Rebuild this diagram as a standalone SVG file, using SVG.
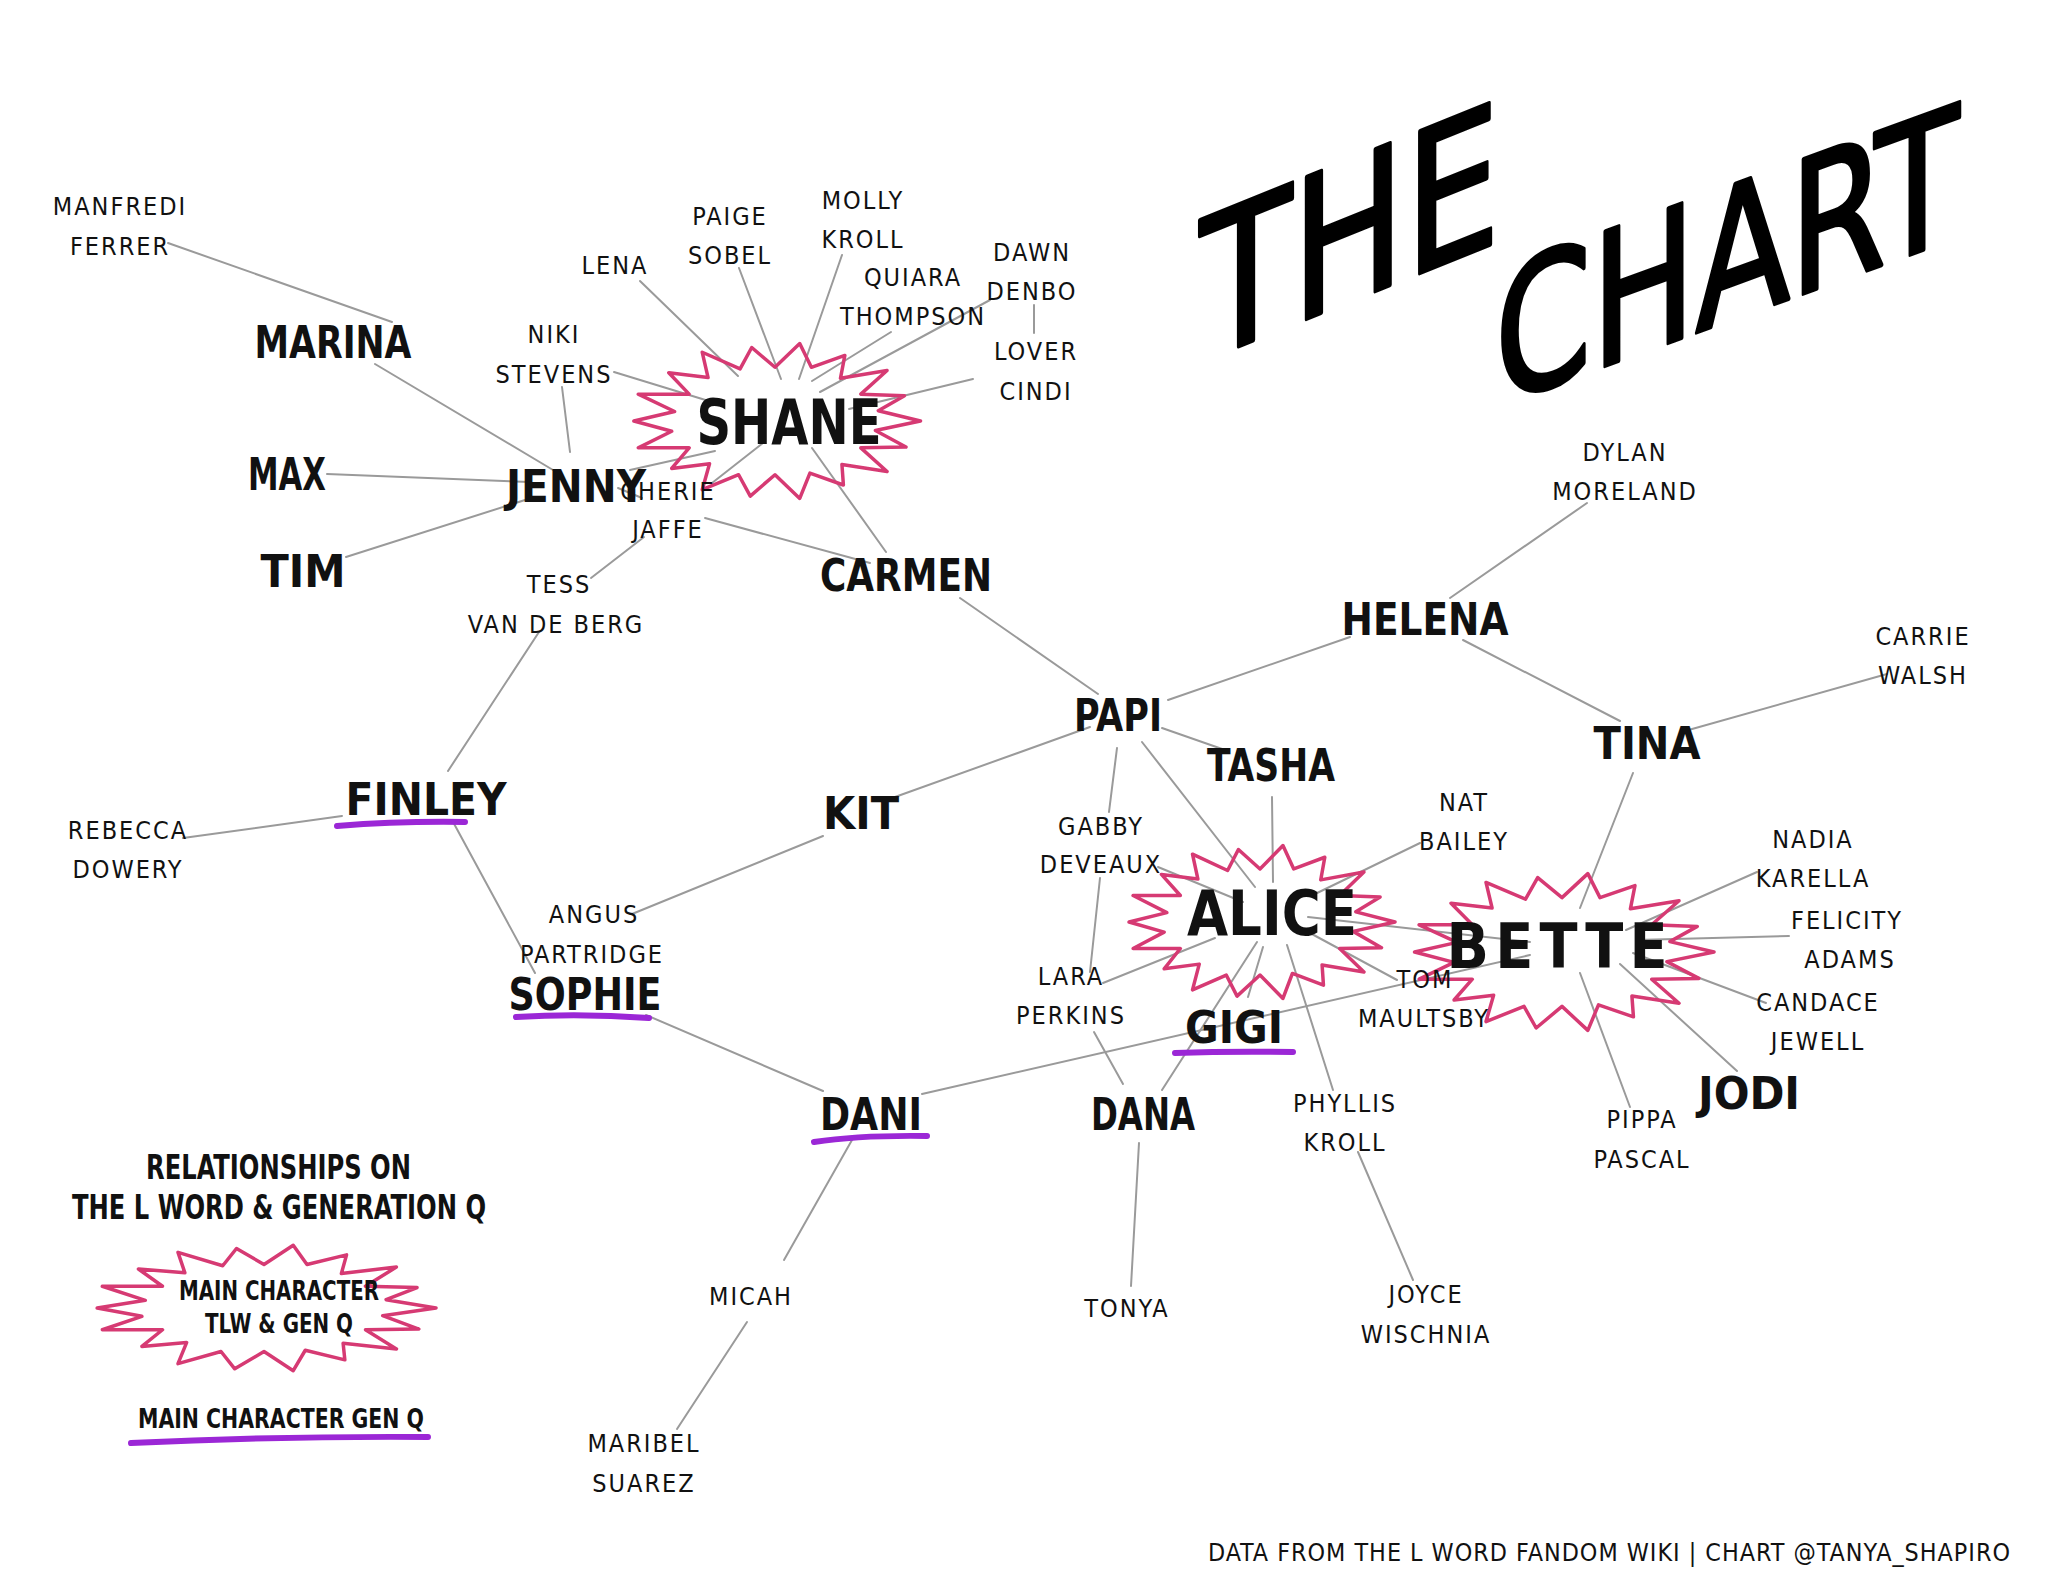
<svg xmlns="http://www.w3.org/2000/svg" xmlns:xlink="http://www.w3.org/1999/xlink" width="2048" height="1594" viewBox="0 0 2048 1594">
<style>
.c line{stroke:#9a9a9a;stroke-width:2;stroke-linecap:round}
.big{font-family:"Liberation Sans Narrow","DejaVu Sans Condensed","Liberation Sans",sans-serif;font-weight:bold;font-size:44px;text-anchor:middle;fill:#111}
.huge{font-size:62px}
.sm{font-family:"Liberation Sans Narrow","DejaVu Sans Condensed","Liberation Sans",sans-serif;font-size:25px;text-anchor:middle;fill:#111;letter-spacing:2px}
.leg{font-family:"Liberation Sans Narrow","DejaVu Sans Condensed","Liberation Sans",sans-serif;font-weight:bold;fill:#111}
.title{font-family:"Liberation Sans Narrow","DejaVu Sans Condensed","Liberation Sans",sans-serif;fill:#000;stroke:#000;stroke-width:4;stroke-linejoin:round}
.bp{fill:none;stroke:#d63a73;stroke-width:3.5;stroke-linejoin:round;vector-effect:non-scaling-stroke}
.ul{fill:none;stroke:#9b27d6;stroke-width:6;stroke-linecap:round}
</style>
<defs>
<path id="burst" class="bp" d="M100,0 L69,12 L90,33 L59,34 L77,64 L46,55 L47,81 L24,66 L17,98 L0,68 L-17,95 L-25,68 L-50,87 L-45,54 L-71,60 L-59,34 L-94,34 L-71,13 L-97,0 L-69,-12 L-94,-34 L-59,-34 L-73,-61 L-46,-55 L-50,-87 L-24,-66 L-16,-93 L0,-68 L17,-98 L25,-68 L48,-83 L45,-54 L77,-64 L59,-34 L89,-32 L71,-13 Z"/>
</defs>
<rect width="2048" height="1594" fill="#fff"/>

<g id="title">
<text class="title" font-size="195" transform="translate(1200,362) skewY(-22)" textLength="300" lengthAdjust="spacingAndGlyphs">THE</text>
<text class="title" font-size="185" transform="translate(1495,406) skewY(-20)" textLength="464" lengthAdjust="spacingAndGlyphs">CHART</text>
</g>

<g id="connectors" class="c">
<line x1="168" y1="243" x2="392" y2="322"/>
<line x1="375" y1="364" x2="553" y2="470"/>
<line x1="327" y1="474" x2="530" y2="482"/>
<line x1="346" y1="557" x2="525" y2="500"/>
<line x1="562" y1="387" x2="570" y2="452"/>
<line x1="614" y1="372" x2="712" y2="402"/>
<line x1="640" y1="281" x2="738" y2="376"/>
<line x1="739" y1="268" x2="781" y2="379"/>
<line x1="842" y1="255" x2="799" y2="379"/>
<line x1="891" y1="332" x2="812" y2="381"/>
<line x1="990" y1="300" x2="820" y2="392"/>
<line x1="1034" y1="305" x2="1034" y2="333"/>
<line x1="973" y1="379" x2="849" y2="409"/>
<line x1="630" y1="470" x2="715" y2="451"/>
<line x1="618" y1="488" x2="642" y2="498"/>
<line x1="712" y1="483" x2="763" y2="443"/>
<line x1="591" y1="578" x2="644" y2="537"/>
<line x1="705" y1="518" x2="870" y2="563"/>
<line x1="812" y1="448" x2="886" y2="552"/>
<line x1="960" y1="598" x2="1098" y2="694"/>
<line x1="1168" y1="700" x2="1350" y2="637"/>
<line x1="1450" y1="598" x2="1587" y2="503"/>
<line x1="1463" y1="640" x2="1620" y2="721"/>
<line x1="1685" y1="731" x2="1887" y2="674"/>
<line x1="1633" y1="773" x2="1580" y2="908"/>
<line x1="1090" y1="727" x2="895" y2="797"/>
<line x1="823" y1="836" x2="632" y2="914"/>
<line x1="1162" y1="728" x2="1225" y2="750"/>
<line x1="1142" y1="742" x2="1255" y2="887"/>
<line x1="1117" y1="748" x2="1109" y2="812"/>
<line x1="1100" y1="878" x2="1090" y2="972"/>
<line x1="1158" y1="867" x2="1243" y2="902"/>
<line x1="1272" y1="797" x2="1273" y2="882"/>
<line x1="1420" y1="843" x2="1313" y2="895"/>
<line x1="1308" y1="917" x2="1530" y2="942"/>
<line x1="1310" y1="933" x2="1397" y2="980"/>
<line x1="1215" y1="938" x2="1103" y2="983"/>
<line x1="1257" y1="942" x2="1162" y2="1090"/>
<line x1="1263" y1="947" x2="1248" y2="997"/>
<line x1="1287" y1="945" x2="1333" y2="1090"/>
<line x1="1094" y1="1032" x2="1123" y2="1084"/>
<line x1="922" y1="1094" x2="1530" y2="955"/>
<line x1="646" y1="1015" x2="823" y2="1091"/>
<line x1="452" y1="820" x2="535" y2="973"/>
<line x1="448" y1="771" x2="539" y2="632"/>
<line x1="342" y1="816" x2="183" y2="838"/>
<line x1="852" y1="1140" x2="784" y2="1260"/>
<line x1="747" y1="1322" x2="677" y2="1429"/>
<line x1="1139" y1="1143" x2="1131" y2="1286"/>
<line x1="1358" y1="1152" x2="1413" y2="1280"/>
<line x1="1626" y1="930" x2="1757" y2="872"/>
<line x1="1636" y1="940" x2="1789" y2="936"/>
<line x1="1633" y1="953" x2="1766" y2="1003"/>
<line x1="1620" y1="964" x2="1737" y2="1071"/>
<line x1="1580" y1="973" x2="1630" y2="1107"/>
</g>

<g id="n-manfredi"><text class="sm" x="120" y="215">MANFREDI</text><text class="sm" x="120" y="255">FERRER</text></g>
<g id="n-marina"><text class="big" x="333" y="358" textLength="157" lengthAdjust="spacingAndGlyphs">MARINA</text></g>
<g id="n-max"><text class="big" x="287" y="490" textLength="78" lengthAdjust="spacingAndGlyphs">MAX</text></g>
<g id="n-tim"><text class="big" x="303" y="587" textLength="85" lengthAdjust="spacingAndGlyphs">TIM</text></g>
<g id="n-jenny"><text class="big" x="576" y="502" textLength="140" lengthAdjust="spacingAndGlyphs">JENNY</text></g>
<g id="n-niki"><text class="sm" x="554" y="343">NIKI</text><text class="sm" x="554" y="383">STEVENS</text></g>
<g id="n-lena"><text class="sm" x="615" y="274">LENA</text></g>
<g id="n-paige"><text class="sm" x="730" y="225">PAIGE</text><text class="sm" x="730" y="264">SOBEL</text></g>
<g id="n-molly"><text class="sm" x="863" y="209">MOLLY</text><text class="sm" x="863" y="248">KROLL</text></g>
<g id="n-quiara"><text class="sm" x="913" y="286">QUIARA</text><text class="sm" x="913" y="325">THOMPSON</text></g>
<g id="n-dawn"><text class="sm" x="1032" y="261">DAWN</text><text class="sm" x="1032" y="300">DENBO</text></g>
<g id="n-cindi"><text class="sm" x="1036" y="360">LOVER</text><text class="sm" x="1036" y="400">CINDI</text></g>
<g id="n-shane"><use xlink:href="#burst" href="#burst" transform="translate(775,421) scale(1.455,0.79)"/><text class="big huge" x="789" y="444" textLength="185" lengthAdjust="spacingAndGlyphs">SHANE</text></g>
<g id="n-cherie"><text class="sm" x="668" y="500">CHERIE</text><text class="sm" x="668" y="538">JAFFE</text></g>
<g id="n-tess"><text class="sm" x="559" y="593">TESS</text><text class="sm" x="556" y="633">VAN DE BERG</text></g>
<g id="n-carmen"><text class="big" x="906" y="591" textLength="172" lengthAdjust="spacingAndGlyphs">CARMEN</text></g>
<g id="n-dylan"><text class="sm" x="1625" y="461">DYLAN</text><text class="sm" x="1625" y="500">MORELAND</text></g>
<g id="n-helena"><text class="big" x="1425" y="635" textLength="167" lengthAdjust="spacingAndGlyphs">HELENA</text></g>
<g id="n-carrie"><text class="sm" x="1923" y="645">CARRIE</text><text class="sm" x="1923" y="684">WALSH</text></g>
<g id="n-papi"><text class="big" x="1118" y="731" textLength="88" lengthAdjust="spacingAndGlyphs">PAPI</text></g>
<g id="n-tasha"><text class="big" x="1271" y="781" textLength="128" lengthAdjust="spacingAndGlyphs">TASHA</text></g>
<g id="n-tina"><text class="big" x="1647" y="759" textLength="107" lengthAdjust="spacingAndGlyphs">TINA</text></g>
<g id="n-kit"><text class="big" x="861" y="829" textLength="76" lengthAdjust="spacingAndGlyphs">KIT</text></g>
<g id="n-finley"><text class="big" x="426" y="815" textLength="161" lengthAdjust="spacingAndGlyphs">FINLEY</text><path class="ul" d="M337,826 Q400,821 465,822"/></g>
<g id="n-rebecca"><text class="sm" x="128" y="839">REBECCA</text><text class="sm" x="128" y="878">DOWERY</text></g>
<g id="n-angus"><text class="sm" x="594" y="923">ANGUS</text><text class="sm" x="592" y="963">PARTRIDGE</text></g>
<g id="n-sophie"><text class="big" x="585" y="1010" textLength="153" lengthAdjust="spacingAndGlyphs">SOPHIE</text><path class="ul" d="M516,1017 Q580,1013 649,1018"/></g>
<g id="n-gabby"><text class="sm" x="1101" y="835">GABBY</text><text class="sm" x="1101" y="873">DEVEAUX</text></g>
<g id="n-alice"><use xlink:href="#burst" href="#burst" transform="translate(1260,922) scale(1.35,0.78)"/><text class="big huge" x="1272" y="935" textLength="170" lengthAdjust="spacingAndGlyphs">ALICE</text></g>
<g id="n-nat"><text class="sm" x="1464" y="811">NAT</text><text class="sm" x="1464" y="850">BAILEY</text></g>
<g id="n-bette"><use xlink:href="#burst" href="#burst" transform="translate(1562,952) scale(1.52,0.8)"/><text class="big huge" x="1557" y="968" textLength="221" lengthAdjust="spacing">BETTE</text></g>
<g id="n-nadia"><text class="sm" x="1813" y="848">NADIA</text><text class="sm" x="1813" y="887">KARELLA</text></g>
<g id="n-felicity"><text class="sm" x="1847" y="929">FELICITY</text><text class="sm" x="1850" y="968">ADAMS</text></g>
<g id="n-lara"><text class="sm" x="1071" y="985">LARA</text><text class="sm" x="1071" y="1024">PERKINS</text></g>
<g id="n-tom"><text class="sm" x="1425" y="988">TOM</text><text class="sm" x="1424" y="1027">MAULTSBY</text></g>
<g id="n-candace"><text class="sm" x="1818" y="1011">CANDACE</text><text class="sm" x="1818" y="1050">JEWELL</text></g>
<g id="n-gigi"><text class="big" x="1234" y="1043" textLength="98" lengthAdjust="spacingAndGlyphs">GIGI</text><path class="ul" d="M1175,1053 Q1230,1051 1293,1052"/></g>
<g id="n-dani"><text class="big" x="871" y="1130" textLength="102" lengthAdjust="spacingAndGlyphs">DANI</text><path class="ul" d="M814,1142 Q860,1135 927,1136"/></g>
<g id="n-dana"><text class="big" x="1143" y="1130" textLength="104" lengthAdjust="spacingAndGlyphs">DANA</text></g>
<g id="n-phyllis"><text class="sm" x="1345" y="1112">PHYLLIS</text><text class="sm" x="1345" y="1151">KROLL</text></g>
<g id="n-pippa"><text class="sm" x="1642" y="1128">PIPPA</text><text class="sm" x="1642" y="1168">PASCAL</text></g>
<g id="n-jodi"><text class="big" x="1749" y="1109" textLength="102" lengthAdjust="spacingAndGlyphs">JODI</text></g>
<g id="n-micah"><text class="sm" x="751" y="1305">MICAH</text></g>
<g id="n-tonya"><text class="sm" x="1127" y="1317">TONYA</text></g>
<g id="n-joyce"><text class="sm" x="1426" y="1303">JOYCE</text><text class="sm" x="1426" y="1343">WISCHNIA</text></g>
<g id="n-maribel"><text class="sm" x="644" y="1452">MARIBEL</text><text class="sm" x="644" y="1492">SUAREZ</text></g>

<g id="legend">
<text class="leg" x="146" y="1179" font-size="34" textLength="265" lengthAdjust="spacingAndGlyphs">RELATIONSHIPS ON</text>
<text class="leg" x="72" y="1219" font-size="34" textLength="414" lengthAdjust="spacingAndGlyphs">THE L WORD &amp; GENERATION Q</text>
<use xlink:href="#burst" href="#burst" transform="translate(264,1308) scale(1.72,0.64)"/>
<text class="leg" x="179" y="1300" font-size="27" textLength="200" lengthAdjust="spacingAndGlyphs">MAIN CHARACTER</text>
<text class="leg" x="205" y="1333" font-size="27" textLength="148" lengthAdjust="spacingAndGlyphs">TLW &amp; GEN Q</text>
<text class="leg" x="138" y="1428" font-size="27" textLength="286" lengthAdjust="spacingAndGlyphs">MAIN CHARACTER GEN Q</text>
<path class="ul" d="M131,1443 Q280,1436 428,1437"/>
</g>

<g id="footer"><text class="sm" x="1208" y="1561" style="text-anchor:start;letter-spacing:1px" font-size="26" textLength="803" lengthAdjust="spacingAndGlyphs">DATA FROM THE L WORD FANDOM WIKI | CHART @TANYA_SHAPIRO</text></g>
</svg>
